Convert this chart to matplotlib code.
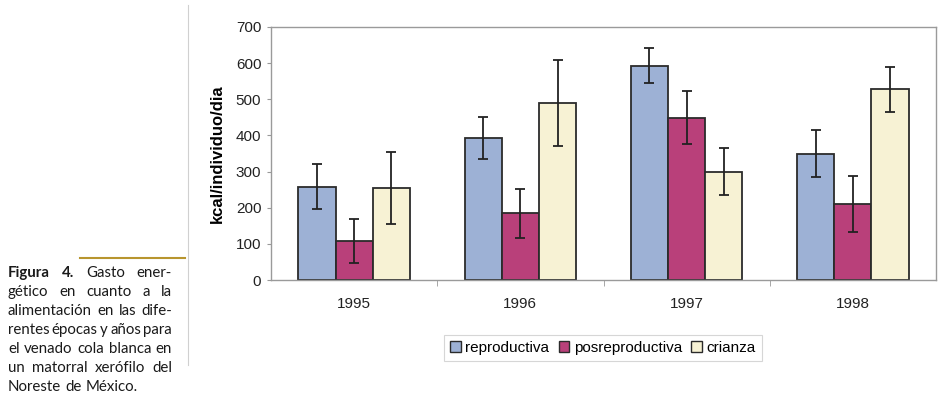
import numpy as np
import matplotlib
matplotlib.use('Agg')
import matplotlib.pyplot as plt
from matplotlib.patches import Patch
from matplotlib.lines import Line2D

# data
years = ['1995', '1996', '1997', '1998']
series = ['reproductiva', 'posreproductiva', 'crianza']
reproductiva = [258, 394, 593, 349]
posreproductiva = [108, 184, 449, 211]
crianza = [255, 490, 300, 528]
err_reproductiva = [62, 58, 48, 65]
err_posreproductiva = [62, 67, 73, 77]
err_crianza = [100, 118, 64, 62]
y_ticks = [0, 100, 200, 300, 400, 500, 600, 700]

colors = ['#9DB1D5', '#B9407A', '#F7F2D4']
edge = '#2b2b2b'

caption_lines = [
    [('Figura', True), ('4.', True), ('Gasto', False), ('ener-', False)],
    [('gético', False), ('en', False), ('cuanto', False), ('a', False), ('la', False)],
    [('alimentación', False), ('en', False), ('las', False), ('dife-', False)],
    [('rentes', False), ('épocas', False), ('y', False), ('años', False), ('para', False)],
    [('el', False), ('venado', False), ('cola', False), ('blanca', False), ('en', False)],
    [('un', False), ('matorral', False), ('xerófilo', False), ('del', False)],
    [('Noreste', False), ('de', False), ('México.', False)],
]

plt.rcParams['font.family'] = ['Liberation Sans', 'DejaVu Sans']

fig = plt.figure(figsize=(9.41, 3.97), dpi=100)
W, H = 941, 397
ax = fig.add_axes([271 / W, 1 - 280 / H, (936 - 271) / W, (280 - 27) / H])

x = np.arange(len(years))
bw = 0.224
vals = [reproductiva, posreproductiva, crianza]
errs = [err_reproductiva, err_posreproductiva, err_crianza]
for i in range(3):
    ax.bar(x + (i - 1) * bw, vals[i], bw, color=colors[i], edgecolor=edge,
           linewidth=1.3, zorder=2)
    ax.errorbar(x + (i - 1) * bw, vals[i], yerr=errs[i], fmt='none',
                ecolor='#222222', elinewidth=1.3, capsize=3.5, capthick=1.3, zorder=3)

ax.set_xlim(-0.5, 3.5)
ax.set_ylim(0, 700)
ax.set_yticks(y_ticks)
ax.set_xticks(x)
ax.set_xticklabels(years)
ax.set_xticks([0.5, 1.5, 2.5], minor=True)
ax.tick_params(axis='x', which='major', length=0, labelsize=11, pad=12, colors='#222222')
ax.tick_params(axis='x', which='minor', length=4, color='#999999')
ax.tick_params(axis='y', length=3, color='#999999', labelsize=11, pad=4, labelcolor='#222222')
for s in ax.spines.values():
    s.set_color('#9a9a9a')
    s.set_linewidth(1.0)
ax.set_ylabel('kcal/individuo/dia', fontsize=12, fontweight='bold', labelpad=8)

handles = [Patch(facecolor=colors[i], edgecolor=edge, linewidth=1.0) for i in range(3)]
leg = fig.legend(handles, series, loc='center', bbox_to_anchor=(603 / W, 1 - 348 / H),
                 ncol=3, frameon=True, fancybox=False, fontsize=11,
                 handlelength=0.7, handleheight=0.7, handletextpad=0.3,
                 columnspacing=0.6, borderpad=0.4)
leg.get_frame().set_edgecolor('#cccccc')
leg.get_frame().set_linewidth(0.8)

# separator lines
fig.add_artist(Line2D([188 / W, 188 / W], [1 - 5 / H, 1 - 365 / H], color='#d0d0d0', lw=0.8))
fig.add_artist(Line2D([80 / W, 185 / W], [1 - 258 / H, 1 - 258 / H], color='#b8952e', lw=1.5))

# justified caption
renderer = fig.canvas.get_renderer()
left, right = 8, 172
y0, dy = 273, 19
for k, line in enumerate(caption_lines):
    texts = []
    for word, bold in line:
        t = fig.text(0, 0, word, fontsize=10.8, family=['Lato', 'DejaVu Sans'],
                     fontweight='bold' if bold else 'normal', color='#1a1a1a',
                     va='center', ha='left')
        texts.append(t)
    widths = [t.get_window_extent(renderer).width for t in texts]
    last = k == len(caption_lines) - 1
    if last:
        gap = 4
    else:
        gap = (right - left - sum(widths)) / (len(texts) - 1)
    xp = left
    for t, w in zip(texts, widths):
        t.set_position((xp / W, 1 - (y0 + k * dy) / H))
        xp += w + gap

fig.savefig('out.png', dpi=100)
